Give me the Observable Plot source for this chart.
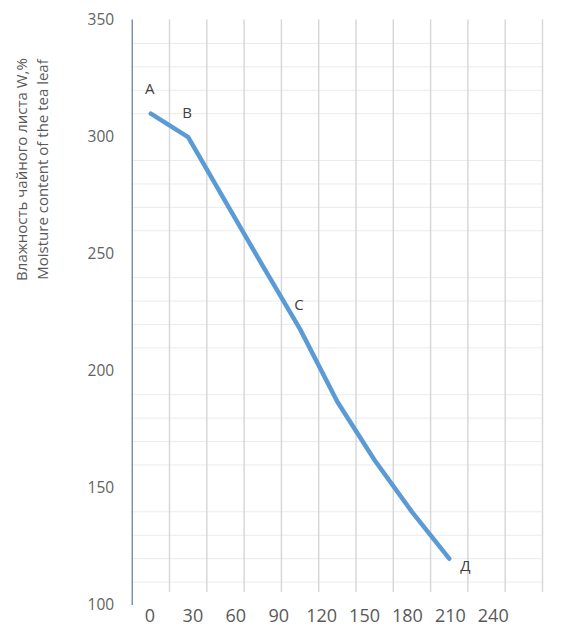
<!DOCTYPE html>
<html>
<head>
<meta charset="utf-8">
<script src="https://cdn.jsdelivr.net/npm/d3@7"></script>
<script src="https://cdn.jsdelivr.net/npm/@observablehq/plot@0.6"></script>
<style>
  html, body { margin: 0; padding: 0; background: #fff; }
</style>
</head>
<body>
<div id="chart"></div>
<script>
// Moisture values at successive category slots
const moisture = [310, 300, 272.5, 245, 218, 187, 162, 140, 120];
// Point labels and the slot they belong to
const pointLabels = ["A", "B", "C", "Д"];
const pointLabelIdx = [0, 1, 4, 8];
// Axis tick labels
const xTickLabels = [0, 30, 60, 90, 120, 150, 180, 210, 240];
const yTickLabels = [100, 150, 200, 250, 300, 350];
// minor horizontal gridlines (majors are not drawn in the reference)
const yGrid = d3.range(110, 350, 10).filter(v => v % 50 !== 0);
// category slot boundaries
const slotCount = 11;
const xGrid = d3.range(1, slotCount + 1);
const titleLines = ["Влажность чайного листа W,%", "Moisture content of the tea leaf"];

const data = moisture.map((v, i) => ({slot: i + 0.5, v}));
const labelled = pointLabelIdx.map((idx, k) => ({slot: idx + 0.5, v: moisture[idx], t: pointLabels[k]}));

// the x tick labels in the reference are spaced independently from the category slots
const labelPos = d3.scaleLinear([0, 240], [0.477, 9.68]);

const font = "'Open Sans', sans-serif";

const chart = Plot.plot({
  width: 561,
  height: 633,
  marginLeft: 131.7,
  marginRight: 19,
  marginTop: 19.5,
  marginBottom: 28,
  style: {fontFamily: font, background: "#fff"},
  x: {domain: [0, slotCount], axis: null},
  y: {domain: [100, 350], axis: null},
  marks: [
    Plot.ruleY(yGrid, {x1: 0, x2: slotCount, stroke: "#ebebeb", strokeWidth: 1}),
    Plot.ruleX(xGrid, {y1: 105.5, y2: 350, stroke: "#d6d6d6", strokeWidth: 1.4}),
    Plot.ruleX([0], {y1: 100, y2: 350, stroke: "#5b7a99", strokeWidth: 1.2}),
    Plot.axisY(yTickLabels, {tickSize: 0, tickPadding: 18, fontSize: 15.5, fill: "#636363", label: null}),
    Plot.text(xTickLabels, {
      x: d => labelPos(d), text: d => String(d), frameAnchor: "bottom", dy: 16,
      fontSize: 18, fill: "#595959", textAnchor: "middle"
    }),
    Plot.text([titleLines.join("\n")], {
      frameAnchor: "top-left", dx: -101.5, dy: 149.5, rotate: -90,
      fontSize: 15, lineHeight: 1.4, fill: "#595959", textAnchor: "middle", lineAnchor: "middle"
    }),
    Plot.line(data, {x: "slot", y: "v", stroke: "#5b9bd5", strokeWidth: 4.5, strokeLinejoin: "round", strokeLinecap: "round"}),
    Plot.text(labelled.filter(d => d.t !== "Д"), {x: "slot", y: "v", text: "t", dy: -24, dx: -1, fontSize: 15, fill: "#404040"}),
    Plot.text(labelled.filter(d => d.t === "Д"), {x: "slot", y: "v", text: "t", dy: 8, dx: 16, fontSize: 15, fill: "#404040"})
  ]
});
document.getElementById("chart").appendChild(chart);
</script>
</body>
</html>
